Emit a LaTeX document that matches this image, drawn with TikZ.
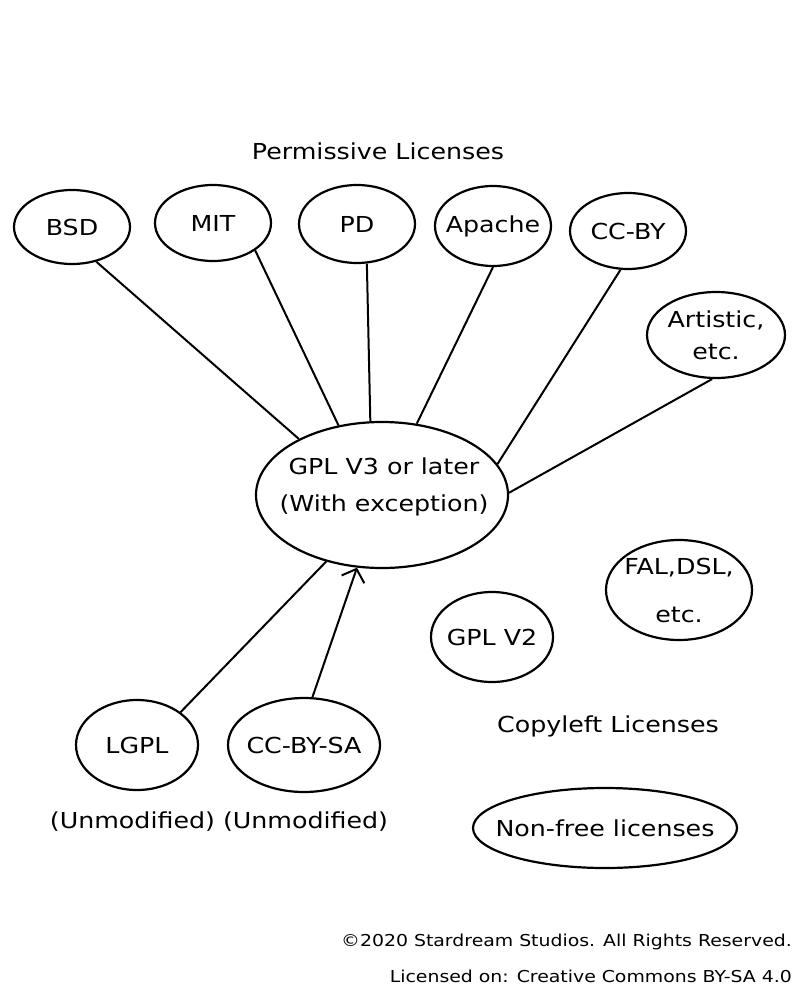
\documentclass[tikz,border=0pt]{standalone}
\usepackage{fontspec}
\setmainfont{DejaVu Sans}[FakeStretch=1.15]
\usetikzlibrary{shapes.geometric,arrows.meta}
\begin{document}
\begin{tikzpicture}[x=1pt,y=-1pt,
  every node/.style={font=\fontsize{22}{26}\selectfont, text=black},
  ell/.style={draw, ellipse, line width=2.2pt, inner ysep=0pt, inner xsep=-35pt},
  conn/.style={line width=2pt},
  foot/.style={font=\fontsize{16.4}{22}\selectfont, anchor=east, inner sep=0pt}]
\useasboundingbox (0,0) rectangle (800,1000);

\node (perm) at (378,151) {Permissive Licenses};

\node[ell, minimum width=116pt, minimum height=74pt] (bsd) at (72,227) {BSD};
\node[ell, minimum width=116pt, minimum height=76pt] (mit) at (213,223) {MIT};
\node[ell, minimum width=116pt, minimum height=78pt] (pd) at (357,224) {PD};
\node[ell, minimum width=116pt, minimum height=80pt] (apache) at (493,226) {Apache};
\node[ell, minimum width=116pt, minimum height=76pt] (ccby) at (628,231) {CC-BY};
\node[ell, minimum width=138pt, minimum height=86pt, align=center,
      font=\fontsize{22}{32}\selectfont] (artistic) at (716,335) {Artistic,\\etc.};

\node[ell, minimum width=252pt, minimum height=146pt] (gpl) at (382,495) {};
\node[align=center, font=\fontsize{22}{37}\selectfont] (gpltext) at (384,487) {GPL V3 or later\\(With exception)};

\node[ell, minimum width=122pt, minimum height=90pt] (lgpl) at (137,745) {LGPL};
\node[ell, minimum width=152pt, minimum height=94pt] (ccbysa) at (304,745) {CC-BY-SA};
\node (unmod) at (219,822) {(Unmodified) (Unmodified)};

\node[ell, minimum width=122pt, minimum height=90pt] (gplv2) at (492,637) {GPL V2};
\node[ell, minimum width=146pt, minimum height=100pt, align=center,
      font=\fontsize{22}{48}\selectfont] (fal) at (679,590) {FAL,DSL,\\etc.};
\node (copyleft) at (608,726) {Copyleft Licenses};
\node[ell, minimum width=264pt, minimum height=80pt] (nonfree) at (605,828) {Non-free licenses};

\node[foot] (copy) at (792,942) {©2020 Stardream Studios. All Rights Reserved.};
\node[foot] (lic) at (792,976) {Licensed on: Creative Commons BY-SA 4.0};

\draw[conn] (bsd.-55) -- (gpl.146);
\draw[conn] (mit.-33) -- (gpl.122);
\draw[conn] (pd.-76) -- (gpl.99);
\draw[conn] (apache.-90) -- (gpl.64);
\draw[conn] (ccby.-101) -- (gpl.15);
\draw[conn] (artistic.-95) -- (gpl.1);
\draw[conn] (lgpl.37) -- (gpl.-130);
\draw[conn, -{Straight Barb[length=11pt, width=24pt, line width=2pt]}] (ccbysa.80) -- (gpl.-109);
\end{tikzpicture}
\end{document}
